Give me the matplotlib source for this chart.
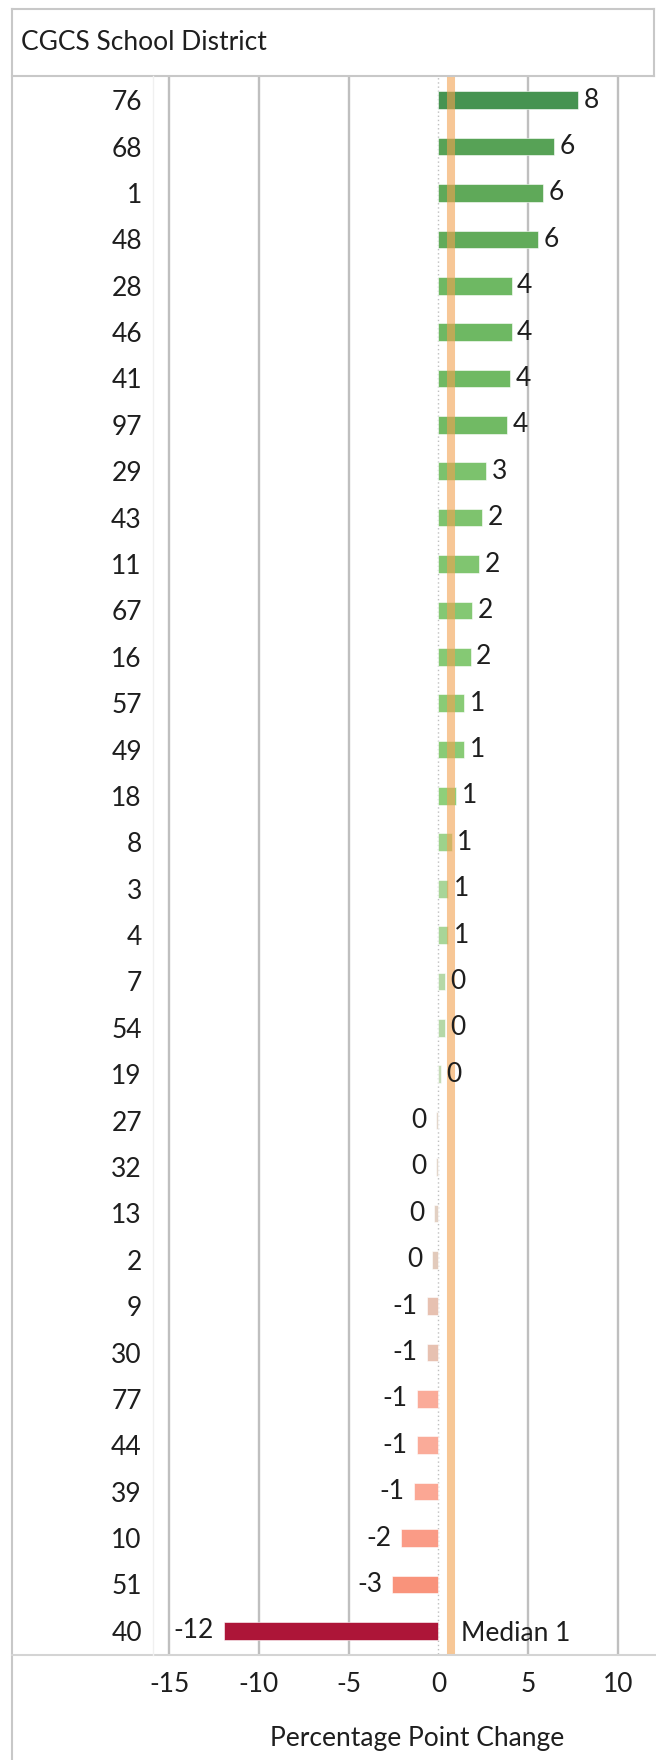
import numpy as np
import matplotlib.pyplot as plt
from matplotlib.lines import Line2D
from matplotlib.colors import to_rgb, to_hex

plt.rcParams['font.family'] = ['Lato', 'DejaVu Sans']

districts = ["76", "68", "1", "48", "28", "46", "41", "97", "29", "43", "11", "67",
             "16", "57", "49", "18", "8", "3", "4", "7", "54", "19", "27", "32",
             "13", "2", "9", "30", "77", "44", "39", "10", "51", "40"]
change = [7.8, 6.45, 5.8, 5.55, 4.07, 4.07, 3.98, 3.8, 2.65, 2.45, 2.27, 1.88,
          1.79, 1.45, 1.45, 1.0, 0.73, 0.53, 0.53, 0.35, 0.35, 0.15, -0.12, -0.12,
          -0.23, -0.35, -0.62, -0.62, -1.18, -1.18, -1.38, -2.1, -2.6, -11.95]
median_change = 0.7
x_ticks = [-15, -10, -5, 0, 5, 10]

# diverging colour ramp, anchored on data values
pos_stops = [(0.0, '#D0DEC4'), (0.5, '#AAD59A'), (1.0, '#8ECF7A'), (2.5, '#7DC36E'),
             (4.0, '#6FB963'), (6.0, '#5DA758'), (8.0, '#449150')]
neg_stops = [(0.0, '#E2DCD2'), (-0.35, '#E2CABB'), (-0.6, '#E6C2B2'), (-1.2, '#FBAA98'),
             (-3.0, '#F98C73'), (-12.0, '#AD1438')]


def ramp(v, stops):
    stops = sorted(stops, key=lambda s: s[0])
    xs = [s[0] for s in stops]
    rgb = np.array([to_rgb(s[1]) for s in stops])
    return to_hex([np.interp(v, xs, rgb[:, i]) for i in range(3)])


def bar_color(v):
    return ramp(v, pos_stops) if v >= 0 else ramp(v, neg_stops)


W, H = 656, 1760
GRID = '#BFBFBF'
FRAME = '#C8C8C8'
TXT = '#1E1E1E'
FS = 19

fig = plt.figure(figsize=(W / 100, H / 100), dpi=100)
ax = fig.add_axes([153 / W, 1 - 1654 / H, 500 / W, (1654 - 77) / H])

y = np.arange(len(districts))
colors = [bar_color(v) for v in change]
ax.barh(y, change, height=0.38, color=colors, edgecolor='white', linewidth=0.4, zorder=2)

for t in x_ticks:
    if t == 0:
        ax.axvline(t, color=GRID, lw=1.0, ls=(0, (1, 2)), zorder=1)
    else:
        ax.axvline(t, color=GRID, lw=1.7, zorder=0)

ax.axvline(median_change, color='#F3A250', lw=5.8, alpha=0.6, zorder=3)

for yi, v in zip(y, change):
    lbl = f"{int(round(v))}"
    if v >= 0:
        ax.annotate(lbl, (v, yi), xytext=(4, 0), textcoords='offset points',
                    ha='left', va='center', fontsize=FS, color=TXT, zorder=4)
    else:
        ax.annotate(lbl, (v, yi), xytext=(-7, 0), textcoords='offset points',
                    ha='right', va='center', fontsize=FS, color=TXT, zorder=4)

ax.annotate(f"Median {int(round(median_change))}", (median_change, y[-1]),
            xytext=(7, -2), textcoords='offset points', ha='left', va='center',
            fontsize=FS, color=TXT, zorder=4)

ax.set_xlim(-15.9, 11.95)
ax.set_ylim(len(districts) - 0.5, -0.5)
ax.set_yticks(y)
ax.set_yticklabels(districts)
ax.set_xticks(x_ticks)
ax.set_xticklabels([str(t) for t in x_ticks])
ax.tick_params(axis='y', length=0, pad=8, labelsize=FS, labelcolor=TXT)
ax.tick_params(axis='x', length=0, pad=13, labelsize=FS, labelcolor=TXT)
for s in ax.spines.values():
    s.set_visible(False)


def fline(x0, y0, x1, y1, color=FRAME, lw=1.5):
    fig.add_artist(Line2D([x0 / W, x1 / W], [1 - y0 / H, 1 - y1 / H],
                          transform=fig.transFigure, color=color, lw=lw))


# table-like frame around the chart
fline(11.5, 9.5, 653.5, 9.5)
fline(11.5, 9.5, 11.5, H)
fline(653.5, 9.5, 653.5, 76)
fline(11.5, 76, 653.5, 76)
fline(11.5, 1654.5, W, 1654.5, color='#D4D4D4')
fline(153, 76, 153, 1654.5, color='#F0F0F0', lw=1.0)

fig.text(21 / W, 1 - 43 / H, "CGCS School District", ha='left', va='center',
         fontsize=FS, color=TXT)
fig.text(417 / W, 1 - 1738 / H, "Percentage Point Change", ha='center', va='center',
         fontsize=FS, color=TXT)

fig.savefig("out.png", dpi=100)
